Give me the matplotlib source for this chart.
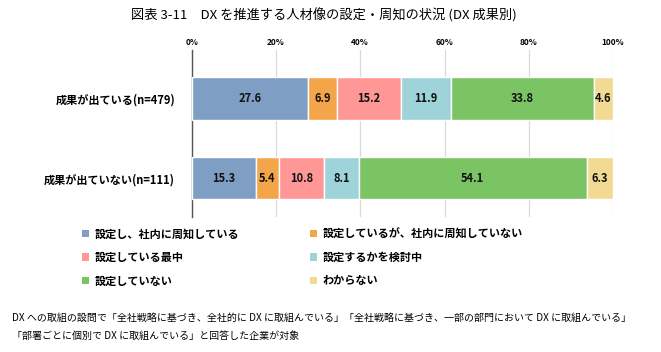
import matplotlib
matplotlib.use("Agg")
import matplotlib.pyplot as plt
from matplotlib.patches import Patch

plt.rcParams['font.family'] = ['Noto Sans CJK JP', 'DejaVu Sans']

groups = ['成果が出ている(n=479)', '成果が出ていない(n=111)']
series = ['設定し、社内に周知している', '設定しているが、社内に周知していない',
          '設定している最中', '設定するかを検討中', '設定していない', 'わからない']
values = [
    [27.6, 15.3],
    [6.9, 5.4],
    [15.2, 10.8],
    [11.9, 8.1],
    [33.8, 54.1],
    [4.6, 6.3],
]
colors = ['#7F9EC3', '#F4A54A', '#FF9797', '#9ED3D9', '#7BC463', '#F2DA92']
xticks = [0, 20, 40, 60, 80, 100]

fig = plt.figure(figsize=(6.61, 3.52), dpi=100)
ax = fig.add_axes([0.29, 0.3835, 0.6375, 0.4745])

ypos = list(range(len(groups)))
left = [0.0] * len(groups)
for name, vals, c in zip(series, values, colors):
    bars = ax.barh(ypos, vals, left=left, height=0.53, color=c,
                   edgecolor='white', linewidth=1.0, label=name, zorder=3)
    for b, v in zip(bars, vals):
        ax.text(b.get_x() + b.get_width() / 2, b.get_y() + b.get_height() / 2,
                f'{v:.1f}', ha='center', va='center', fontsize=8,
                fontweight='bold', color='#111111', zorder=4)
    left = [l + v for l, v in zip(left, vals)]

ax.set_xlim(0, 100)
ax.set_ylim(1.49, -0.61)
ax.set_xticks(xticks)
ax.set_xticklabels([f'{t}%' for t in xticks], fontsize=6, fontweight='bold')
ax.xaxis.tick_top()
ax.tick_params(axis='x', length=0, pad=2)
ax.set_yticks(ypos)
ax.set_yticklabels(groups, fontsize=8, fontweight='bold')
ax.tick_params(axis='y', length=0, pad=12)
ax.grid(axis='x', color='#D9D9D9', linewidth=0.9, zorder=0)
for s in ['top', 'right', 'bottom']:
    ax.spines[s].set_visible(False)
ax.spines['left'].set_color('#555555')
ax.spines['left'].set_linewidth(1.0)

# legend, filled row by row
handles = [Patch(facecolor=c, edgecolor='none') for c in colors]
order = [0, 2, 4, 1, 3, 5]
leg = fig.legend([handles[i] for i in order], [series[i] for i in order],
                 ncol=2, loc='upper left', bbox_to_anchor=(0.115, 0.37),
                 frameon=False, prop={'size': 8, 'weight': 'bold'},
                 handlelength=0.7, handleheight=0.7, handletextpad=0.5,
                 columnspacing=6.3, labelspacing=0.95, borderpad=0)

fig.text(0.49, 0.955, '図表 3-11　DX を推進する人材像の設定・周知の状況 (DX 成果別)',
         ha='center', va='center', fontsize=9.5)
fig.text(0.018, 0.097,
         'DX への取組の設問で「全社戦略に基づき、全社的に DX に取組んでいる」「全社戦略に基づき、一部の部門において DX に取組んでいる」',
         ha='left', va='center', fontsize=7.2)
fig.text(0.018, 0.045, '「部署ごとに個別で DX に取組んでいる」と回答した企業が対象',
         ha='left', va='center', fontsize=7.2)

fig.savefig('out.png', dpi=100)
